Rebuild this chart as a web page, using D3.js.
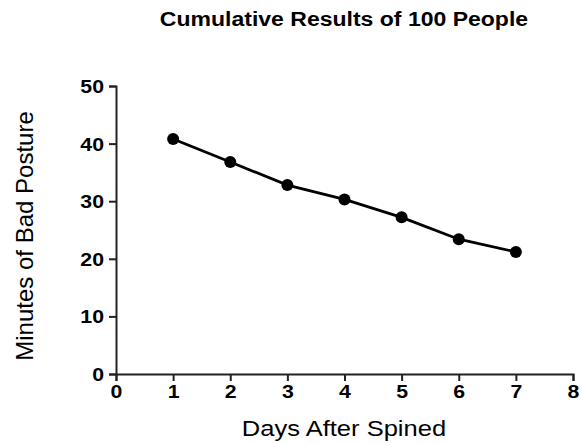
<!DOCTYPE html>
<html><head><meta charset="utf-8">
<script src="https://cdn.jsdelivr.net/npm/d3@7/dist/d3.min.js"></script>
<style>body{margin:0;background:#fff}svg{display:block}text{font-family:"Liberation Sans",Arial,sans-serif}</style>
</head><body>
<svg id="c" width="581" height="443"></svg>
<script>
const days = [1, 2, 3, 4, 5, 6, 7];
const minutes = [40.8, 36.8, 32.8, 30.3, 27.2, 23.4, 21.2];
const xTicks = [0, 1, 2, 3, 4, 5, 6, 7, 8];
const yTicks = [0, 10, 20, 30, 40, 50];
const title = "Cumulative Results of 100 People";
const xLabel = "Days After Spined";
const yLabel = "Minutes of Bad Posture";

function stretch(k) {
  return sel => sel.each(function () {
    const w = this.getComputedTextLength();
    d3.select(this).attr("textLength", w * k).attr("lengthAdjust", "spacingAndGlyphs");
  });
}

const svg = d3.select("#c");
const x = d3.scaleLinear().domain([0, 8]).range([116, 573]);
const y = d3.scaleLinear().domain([0, 50]).range([374, 86]);

const xAxis = svg.append("g").attr("transform", "translate(0,374)")
  .call(d3.axisBottom(x).tickValues(xTicks).tickSize(7).tickPadding(4).tickFormat(d3.format("d")));
const yAxis = svg.append("g").attr("transform", "translate(116,0)")
  .call(d3.axisLeft(y).tickValues(yTicks).tickSize(7).tickPadding(5).tickFormat(d3.format("d")));
[xAxis, yAxis].forEach(a => {
  a.attr("font-size", null).attr("font-family", null);
  a.select(".domain").attr("stroke", "#222").attr("stroke-width", 2);
  a.selectAll(".tick line").attr("stroke", "#222").attr("stroke-width", 2);
  a.selectAll(".tick text").attr("fill", "#000").style("font-size", "19px").style("font-weight", "bold");
});
yAxis.selectAll(".tick text").attr("dy", "0.34em");
xAxis.selectAll(".tick text").attr("dy", "0.7em");
xAxis.selectAll(".tick text").call(stretch(1.12));
yAxis.selectAll(".tick text").call(stretch(1.12));

const line = d3.line().x((d, i) => x(days[i])).y(d => y(d));
svg.append("path").datum(minutes).attr("d", line).attr("fill", "none")
  .attr("stroke", "#000").attr("stroke-width", 2.8);
svg.selectAll("circle.pt").data(minutes).join("circle").attr("class", "pt")
  .attr("cx", (d, i) => x(days[i])).attr("cy", d => y(d)).attr("r", 6).attr("fill", "#000");

svg.append("text").attr("x", 344).attr("y", 26).attr("text-anchor", "middle")
  .style("font-size", "19.5px").style("font-weight", "bold").text(title).call(stretch(1.18));
svg.append("text").attr("x", 344).attr("y", 436).attr("text-anchor", "middle")
  .style("font-size", "22px").text(xLabel).call(stretch(1.16));
svg.append("text").attr("transform", "translate(33,236) rotate(-90)").attr("text-anchor", "middle")
  .style("font-size", "24px").text(yLabel);
</script>
</body></html>
